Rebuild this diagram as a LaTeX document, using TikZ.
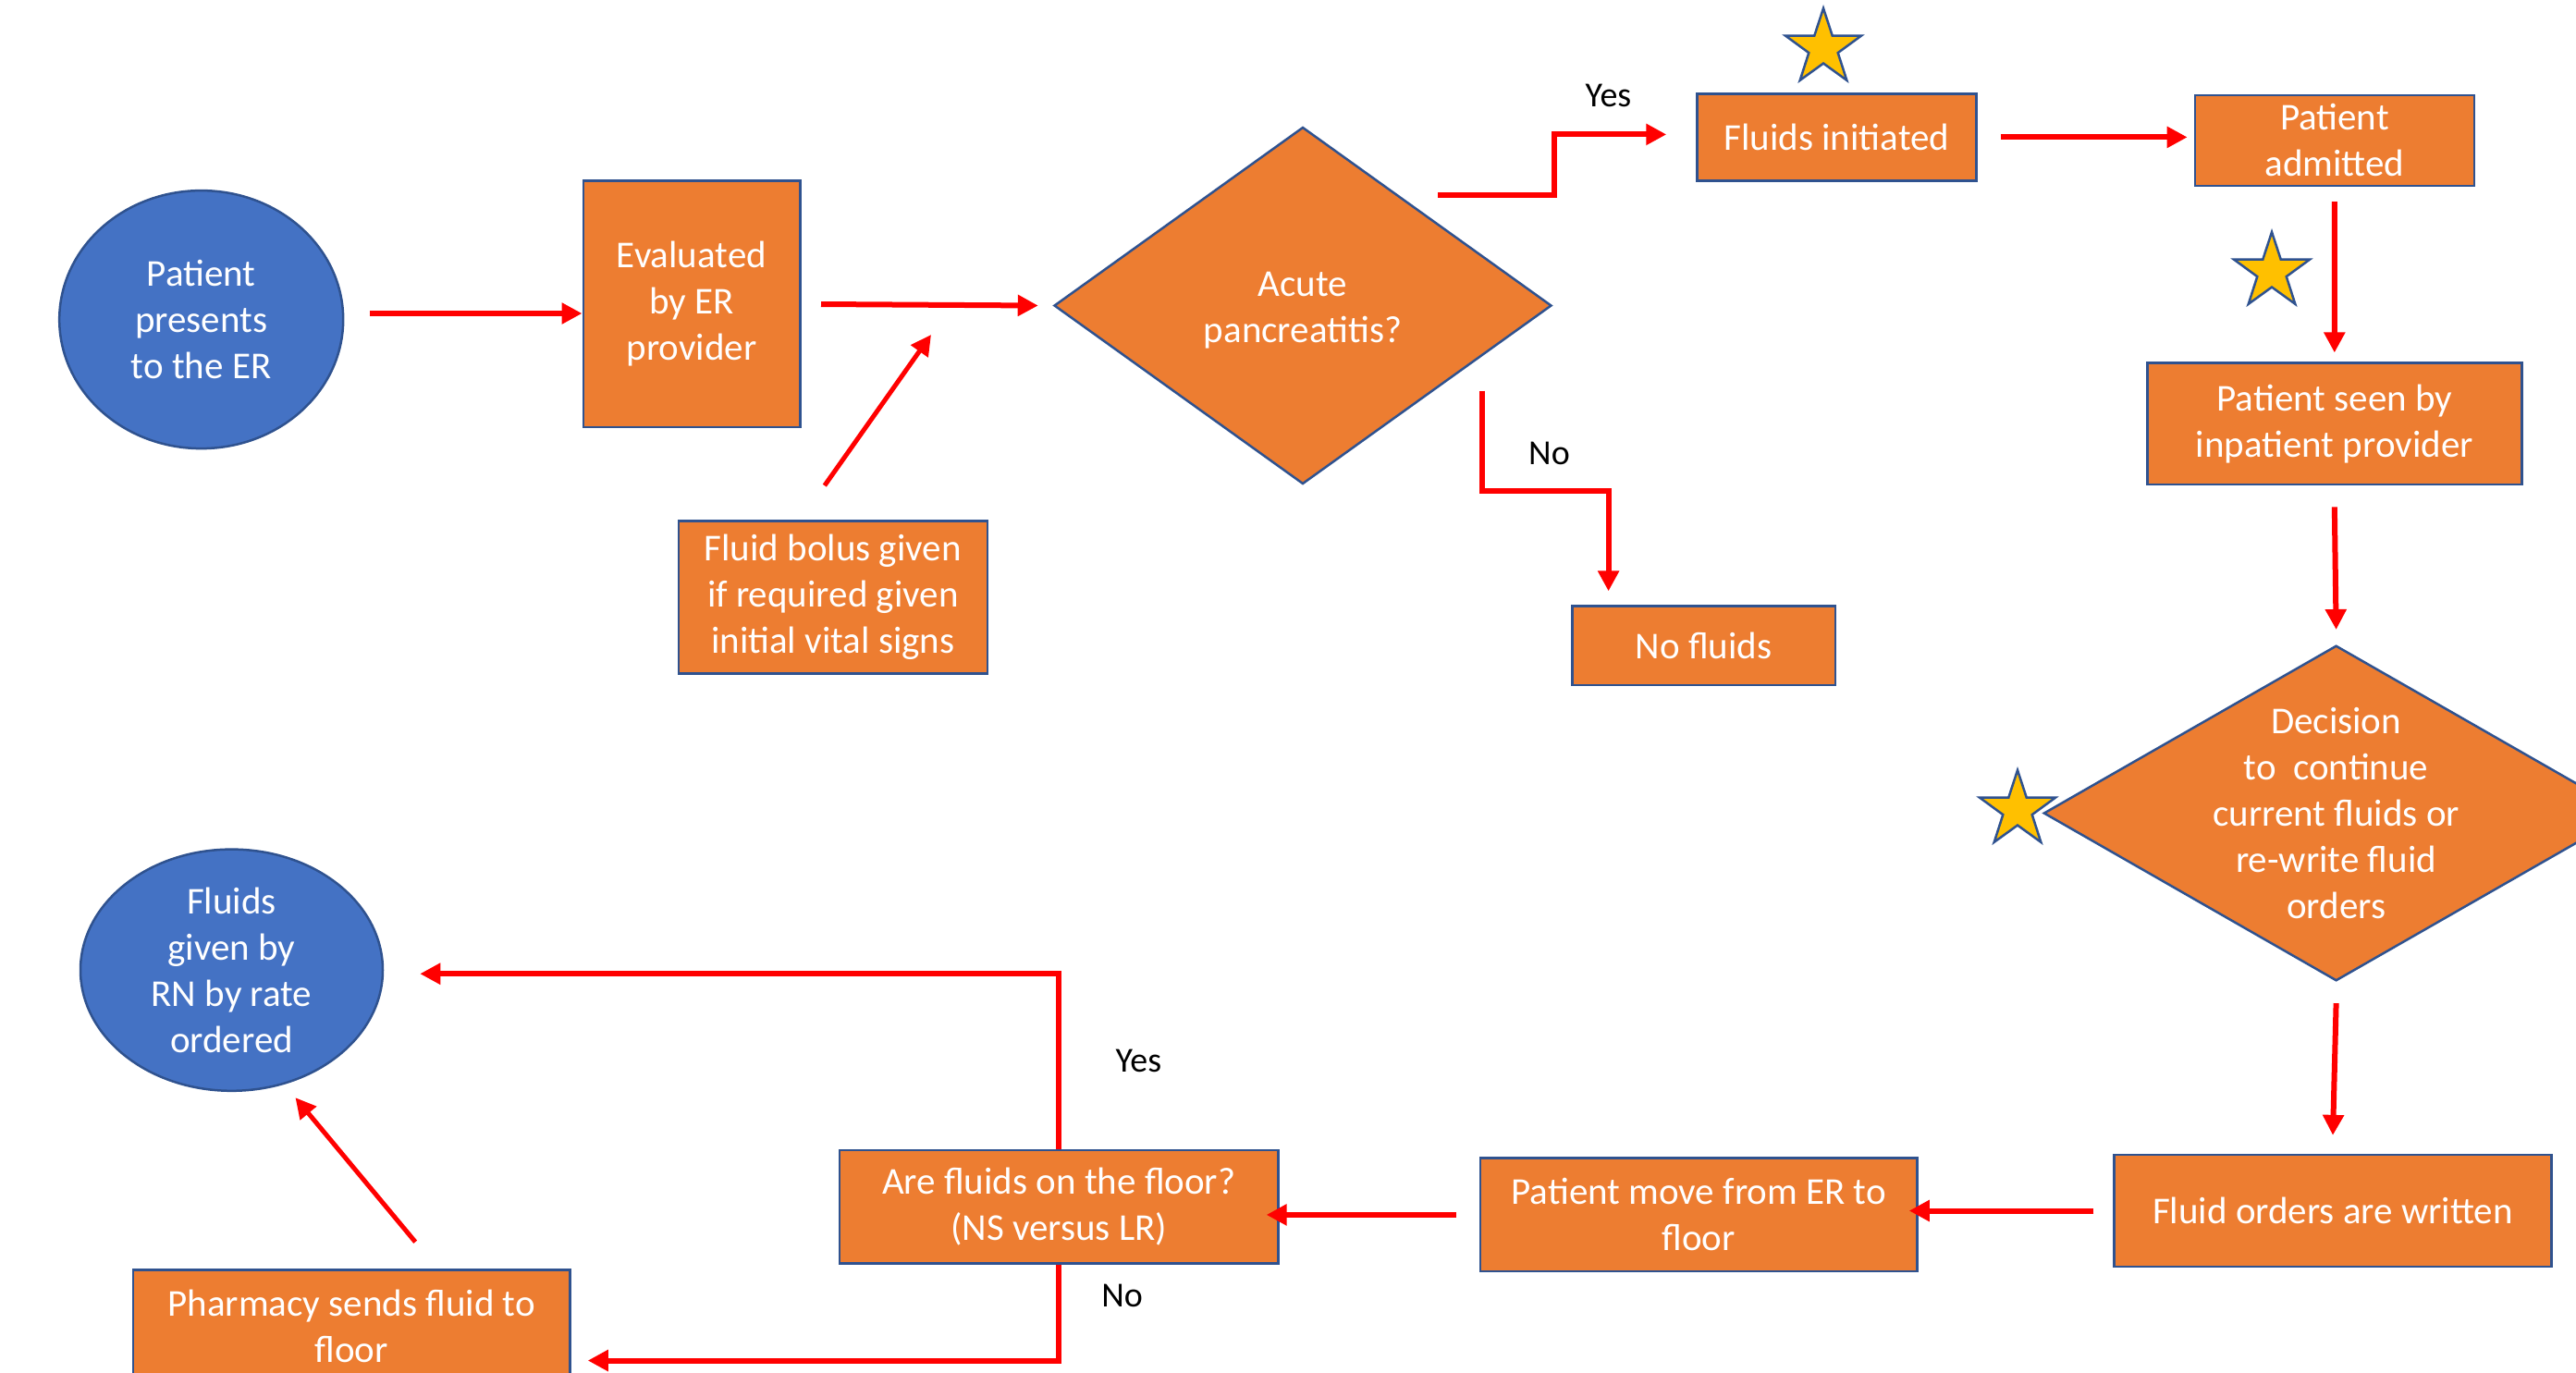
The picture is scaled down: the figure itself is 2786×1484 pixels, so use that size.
\documentclass[tikz,border=0pt]{standalone}
\usepackage{fontspec}
\setmainfont{Carlito}
\usetikzlibrary{shapes.geometric,arrows.meta,calc}
\definecolor{orng}{HTML}{ED7D31}
\definecolor{bblue}{HTML}{2F528F}
\definecolor{eblue}{HTML}{4472C4}
\definecolor{stary}{HTML}{FFC000}
\definecolor{arred}{HTML}{FF0000}
\tikzset{
  proc/.style={rectangle, fill=orng, draw=bblue, line width=2.5pt, text=white,
    font=\fontsize{41}{50}\selectfont, align=center, inner sep=0pt},
  nudge/.style={execute at begin node={\rule{0pt}{39pt}}},
  term/.style={ellipse, fill=eblue, draw=bblue, line width=2.5pt, text=white,
    font=\fontsize{41}{50}\selectfont, align=center, inner sep=0pt},
  dia/.style={diamond, fill=orng, draw=bblue, line width=2.5pt, inner sep=0pt},
  diatext/.style={text=white, font=\fontsize{41}{50}\selectfont, align=center, inner sep=0pt},
  starnode/.style={star, star points=5, star point ratio=2.6, fill=stary, draw=bblue,
    line width=2.5pt, minimum size=86pt, inner sep=0pt},
  arr/.style={draw=arred, line width=6pt, -{Triangle[length=22pt,width=22pt]}},
  arrthin/.style={draw=arred, line width=5pt, -{Triangle[length=22pt,width=22pt]}},
  lbl/.style={text=black, font=\fontsize{38}{46}\selectfont, inner sep=0pt}
}
\begin{document}
\begin{tikzpicture}[x=1pt,y=-1pt]
\useasboundingbox (0,0) rectangle (2786,1484);
% nodes
\node[term, minimum width=307pt, minimum height=279pt] (e1) at (217.7,345.6) {Patient\\presents\\to the ER};
\node[proc, nudge, minimum width=234.5pt, minimum height=266.5pt] (ev) at (748,328.7) {Evaluated\\by ER\\provider};
\node[dia, minimum width=538pt, minimum height=386pt] (acute) at (1409,330.5) {};
\node[diatext] at ([shift={(0,5)}]acute.center) {Acute\\pancreatitis?};
\node[proc, nudge, minimum width=334pt, minimum height=165pt] (bolus) at (900.8,645.9) {Fluid bolus given\\if required given\\initial vital signs};
\node[proc, minimum width=302pt, minimum height=94pt] (fi) at (1986.5,148.4) {Fluids initiated};
\node[proc, minimum width=302pt, minimum height=97.8pt] (pa) at (2524.9,151.9) {Patient\\admitted};
\node[proc, nudge, minimum width=405pt, minimum height=131.5pt] (ps) at (2524.8,458.4) {Patient seen by\\inpatient provider};
\node[dia, minimum width=632.6pt, minimum height=362.6pt] (dec) at (2526.6,879.5) {};
\node[diatext] at (dec.center) {Decision\\to~~continue\\current fluids or\\re-write fluid\\orders};
\node[proc, minimum width=284.3pt, minimum height=85.3pt] (nf) at (1842.6,698.3) {No fluids};
\node[proc, minimum width=472.6pt, minimum height=120.8pt] (fo) at (2523,1309.5) {Fluid orders are written};
\node[proc, minimum width=472.6pt, minimum height=122.6pt] (pm) at (1837.2,1313.9) {Patient move from ER to\\floor};
\node[proc, nudge, minimum width=474.4pt, minimum height=122.6pt] (af) at (1145.2,1305.1) {Are fluids on the floor?\\(NS versus LR)};
\node[term, minimum width=327pt, minimum height=261.2pt] (fg) at (250.5,1049.2) {Fluids\\given by\\RN by rate\\ordered};
\node[proc, nudge, minimum width=472.6pt, minimum height=122pt] (ph) at (380.2,1434.5) {Pharmacy sends fluid to\\floor};
% stars
\node[starnode] (s1) at (1972,52) {};
\node[starnode] (s2) at (2457,294) {};
\node[starnode] (s3) at (2182,876) {};
% labels
\node[lbl] (ly1) at (1739.5,103) {Yes};
\node[lbl] (ln1) at (1675.5,490.4) {No};
\node[lbl] (ly2) at (1231.3,1147.8) {Yes};
\node[lbl] (ln2) at (1213.6,1401.9) {No};
% connectors
\coordinate (p1) at (400,339);
\draw[arr] (p1) -- (p1 -| ev.west);
\coordinate (p2) at (888,329);
\draw[arr] (p2) -- ([xshift=-16pt]acute.west);
\coordinate (p3e) at (1007,362);
\draw[arrthin] ([shift={(-9,-37)}]bolus.north) -- (p3e);
\coordinate (ys) at (1555,211);
\draw[arr] (ys) -- ++(126,0) |- ([shift={(-32,-3)}]fi.west);
\draw[arr] ([xshift=25pt]fi.east) -- ([xshift=-7pt]fi.east -| pa.west);
\draw[arr] ([shift={(0,16)}]pa.south) -- ([shift={(0,-10)}]ps.north);
\draw[arr] ([shift={(0,23)}]ps.south) -- ([shift={(0,-16)}]dec.north);
\draw[arr] ([shift={(0,23)}]dec.south) -- ([shift={(0,-20)}]fo.north);
\draw[arr] ([xshift=-21pt]fo.west) -- ([xshift=-10pt]fo.west -| pm.east);
\draw[arr] ([xshift=-25pt]pm.west) -- ([xshift=-14pt]pm.west -| af.east);
\draw[arr] (af.north) |- ([shift={(39,4)}]fg.east);
\draw[arr] (af.south) |- ([shift={(18,37)}]ph.east);
\draw[arrthin] ([shift={(69,-29)}]ph.north) -- ([shift={(69,138)}]fg.center);
\draw[arr] ([shift={(194,92)}]acute.center) -- ++(0,108) -| ([shift={(-103,-15)}]nf.north);
\end{tikzpicture}
\end{document}
